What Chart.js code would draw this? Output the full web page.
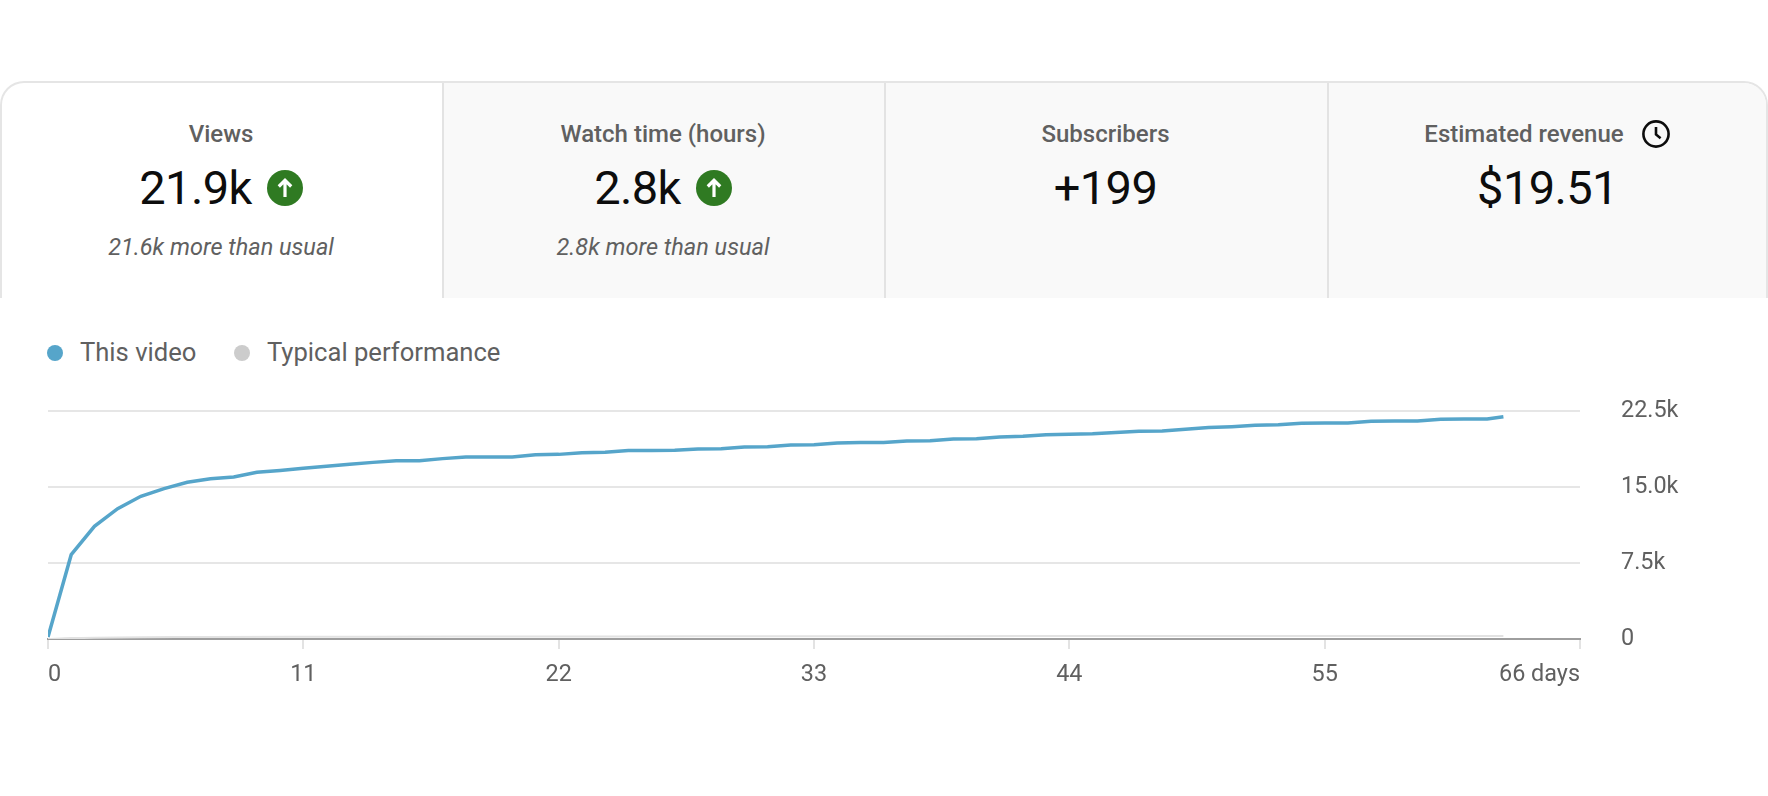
<!DOCTYPE html>
<html>
<head>
<meta charset="utf-8">
<script src="https://cdn.jsdelivr.net/npm/chart.js@4.4.0/dist/chart.umd.min.js"></script>
<style>
html,body{margin:0;padding:0;background:#fff;width:1768px;height:796px;overflow:hidden;font-family:Roboto,"Noto Sans",sans-serif;}
.card{position:absolute;left:0;top:81px;width:1768px;height:217px;box-sizing:border-box;border:2px solid #e5e5e5;border-bottom:none;border-radius:24px 24px 0 0;overflow:hidden;background:#fff;}
.tile{position:absolute;top:0;height:220px;background:#f9f9f9;border-left:2px solid #e3e3e3;box-sizing:border-box;}
.txt{position:absolute;display:flex;justify-content:center;align-items:center;white-space:nowrap;}
.lbl{font-size:24px;font-weight:500;color:#606060;line-height:24px;height:24px;}
.val{font-size:47px;font-weight:400;color:#0d0d0d;line-height:47px;height:47px;letter-spacing:-0.6px;}
.sub{font-size:23.5px;font-style:italic;color:#606060;line-height:24px;height:24px;}
.leg{position:absolute;font-size:25.6px;color:#606060;line-height:26px;height:26px;white-space:nowrap;}
.dot{position:absolute;width:16px;height:16px;border-radius:50%;}
#wrap{position:absolute;left:0;top:390px;width:1768px;height:310px;}
</style>
</head>
<body>
<div class="card">
  <div class="tile" style="left:440px;width:443px;"></div>
  <div class="tile" style="left:882px;width:443px;"></div>
  <div class="tile" style="left:1325px;width:445px;"></div>
</div>

<!-- Tile 1 -->
<div class="txt lbl" style="left:0;width:442px;top:122px;">Views</div>
<div class="txt val" style="left:0;width:442px;top:164px;"><span>21.9k</span>
  <svg style="margin-left:15px" width="36" height="36" viewBox="0 0 36 36"><circle cx="18" cy="18" r="18" fill="#2f7a22"/><path d="M18 27V10.5M11.8 16.5L18 10.3l6.2 6.2" stroke="#fff" stroke-width="3.2" fill="none"/></svg></div>
<div class="txt sub" style="left:0;width:442px;top:235px;">21.6k more than usual</div>

<!-- Tile 2 -->
<div class="txt lbl" style="left:442px;width:442px;top:122px;">Watch time (hours)</div>
<div class="txt val" style="left:442px;width:442px;top:164px;"><span>2.8k</span>
  <svg style="margin-left:15px" width="36" height="36" viewBox="0 0 36 36"><circle cx="18" cy="18" r="18" fill="#2f7a22"/><path d="M18 27V10.5M11.8 16.5L18 10.3l6.2 6.2" stroke="#fff" stroke-width="3.2" fill="none"/></svg></div>
<div class="txt sub" style="left:442px;width:442px;top:235px;">2.8k more than usual</div>

<!-- Tile 3 -->
<div class="txt lbl" style="left:884px;width:443px;top:122px;">Subscribers</div>
<div class="txt val" style="left:884px;width:443px;top:164px;">+199</div>

<!-- Tile 4 -->
<div class="txt lbl" style="left:1327px;width:441px;top:122px;"><span>Estimated revenue</span>
  <svg style="margin-left:17px" width="30" height="30" viewBox="0 0 30 30"><circle cx="15" cy="15" r="12.6" stroke="#0d0d0d" stroke-width="2.6" fill="none"/><path d="M15 8V15.5L19.6 19.2" stroke="#0d0d0d" stroke-width="2.6" fill="none"/></svg></div>
<div class="txt val" style="left:1327px;width:441px;top:164px;">$19.51</div>

<!-- Legend -->
<div class="dot" style="left:47px;top:345px;background:#56a5ca;"></div>
<div class="leg" style="left:80px;top:339px;">This video</div>
<div class="dot" style="left:234px;top:345px;background:#cccccc;"></div>
<div class="leg" style="left:267px;top:339px;">Typical performance</div>

<div id="wrap"><canvas id="c" width="1768" height="310" style="width:1768px;height:310px;"></canvas></div>

<script>
// ---- Data (views, cumulative) ----
const days = [0,1,2,3,4,5,6,7,8,9,10,11,12,13,14,15,16,17,18,19,20,21,22,23,24,25,26,27,28,29,30,31,32,33,34,35,36,37,38,39,40,41,42,43,44,45,46,47,48,49,50,51,52,53,54,55,56,57,58,59,60,61,62,62.7];
const thisVideo = [200,8320,11120,12860,14080,14840,15460,15820,15990,16450,16640,16840,17040,17240,17430,17600,17600,17800,17960,17960,17960,18190,18220,18390,18420,18590,18590,18620,18750,18780,18950,18980,19140,19180,19340,19380,19380,19540,19570,19740,19770,19930,20000,20160,20200,20260,20390,20490,20530,20690,20860,20950,21090,21150,21280,21320,21320,21480,21510,21510,21680,21710,21710,21940];
const typicalDays = [0,1,2,4,7,14,21,28,35,42,49,56,62.7];
const typical = [0,90,130,170,200,230,250,265,275,285,290,295,300];
const xTicks = [0,11,22,33,44,55,66];
const xTickLabels = ['0','11','22','33','44','55','66 days'];
const yTicks = [0,7500,15000,22500];
const yTickLabels = ['0','7.5k','15.0k','22.5k'];
const seriesNames = ['This video','Typical performance'];

const tickFont = {family:'Roboto', size:23.4};

new Chart(document.getElementById('c'), {
  type: 'line',
  data: {
    datasets: [
      {
        label: seriesNames[0],
        data: days.map((d,i)=>({x:d, y:thisVideo[i]})),
        borderColor: '#56a5ca',
        backgroundColor: '#56a5ca',
        borderWidth: 3.5,
        pointRadius: 0,
        tension: 0,
        order: 1
      },
      {
        label: seriesNames[1],
        data: typicalDays.map((d,i)=>({x:d, y:typical[i]})),
        borderColor: '#e2e2e2',
        backgroundColor: '#cccccc',
        borderWidth: 2,
        pointRadius: 0,
        tension: 0.3,
        order: 2
      }
    ]
  },
  options: {
    responsive: false,
    animation: false,
    layout: {padding: {left: 48, top: 21, right: 0, bottom: 0}},
    plugins: {legend: {display: false}, tooltip: {enabled: false}},
    scales: {
      x: {
        type: 'linear', position: 'bottom', min: 0, max: 66,
        afterBuildTicks: s => { s.ticks = xTicks.map(v => ({value: v})); },
        afterFit: s => { s.height = 61; },
        ticks: {
          align: 'inner', padding: 12, color: '#606060', font: tickFont,
          maxRotation: 0, autoSkip: false,
          callback: (v, i) => xTickLabels[i]
        },
        grid: {drawOnChartArea: false, drawTicks: true, tickLength: 10, color: '#e3e3e3', lineWidth: 2},
        border: {display: true, color: '#9e9e9e', width: 2}
      },
      y: {
        type: 'linear', position: 'right', min: 0, max: 22500,
        afterBuildTicks: s => { s.ticks = yTicks.map(v => ({value: v})); },
        afterFit: s => { s.width = 188; },
        ticks: {
          padding: 0, color: '#606060', font: tickFont,
          callback: (v, i) => yTickLabels[i]
        },
        grid: {
          drawTicks: true, tickLength: 41, tickColor: 'rgba(0,0,0,0)', lineWidth: 2,
          color: c => (c.tick && c.tick.value === 0) ? 'rgba(0,0,0,0)' : '#e6e6e6'
        },
        border: {display: false}
      }
    }
  }
});
</script>
</body>
</html>
